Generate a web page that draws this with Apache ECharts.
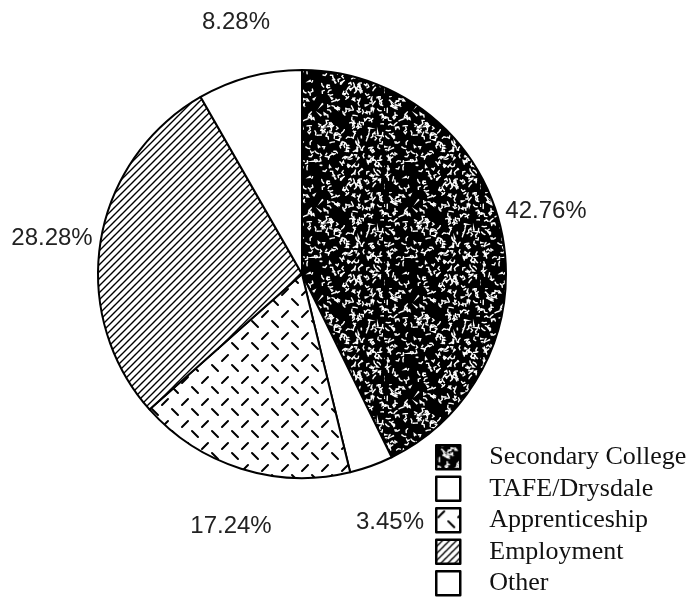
<!DOCTYPE html>
<html>
<head>
<meta charset="utf-8">
<script src="https://cdn.jsdelivr.net/npm/echarts@6/dist/echarts.min.js"></script>
<style>
  html, body { margin: 0; padding: 0; background: #fff; }
  #main { width: 690px; height: 603px; }
</style>
</head>
<body>
<div id="main"></div>
<script>
// destinations, clockwise from 12 o'clock
var categories = ['Secondary College', 'TAFE/Drysdale', 'Apprenticeship', 'Employment', 'Other'];
var percents = [42.76, 3.45, 17.24, 28.28, 8.28];

// where each percentage label sits (text centre, px)
var labelPos = [[546, 211], [390, 522], [231, 526], [52, 238], [236, 22]];

// small seeded generator, only for the speckle texture
var seed = 7;
function rnd() {
  seed = (seed * 16807) % 2147483647;
  return (seed - 1) / 2147483646;
}

// black with white worm-like speckles
function speckle() {
  var c = document.createElement('canvas');
  c.width = 96; c.height = 96;
  var g = c.getContext('2d');
  g.fillStyle = '#000';
  g.fillRect(0, 0, 96, 96);
  g.strokeStyle = '#fff';
  g.lineWidth = 1.4;
  g.lineCap = 'round';
  for (var i = 0; i < 300; i++) {
    var x = rnd() * 96, y = rnd() * 96;
    g.beginPath();
    g.moveTo(x, y);
    for (var k = 0; k < 2; k++) {
      var a = rnd() * Math.PI * 2;
      x += Math.cos(a) * 2.2; y += Math.sin(a) * 2.2;
      g.lineTo(x, y);
    }
    g.stroke();
  }
  return c;
}

// "/" hatching
function hatch() {
  var s = 7;
  var c = document.createElement('canvas');
  c.width = s; c.height = s;
  var g = c.getContext('2d');
  g.fillStyle = '#fff';
  g.fillRect(0, 0, s, s);
  g.strokeStyle = '#000';
  g.lineWidth = 1.4;
  g.beginPath();
  g.moveTo(-1, s + 1); g.lineTo(s + 1, -1);
  g.moveTo(-1, 1); g.lineTo(1, -1);
  g.moveTo(s - 1, s + 1); g.lineTo(s + 1, s - 1);
  g.stroke();
  return c;
}

// rows of short "/" and "\" dashes
function dashes() {
  var c = document.createElement('canvas');
  c.width = 20; c.height = 22;
  var g = c.getContext('2d');
  g.fillStyle = '#fff';
  g.fillRect(0, 0, 20, 22);
  g.strokeStyle = '#000';
  g.lineWidth = 2;
  g.lineCap = 'round';
  g.beginPath();
  g.moveTo(2, 9); g.lineTo(8, 3);
  g.moveTo(12, 13); g.lineTo(18, 19);
  g.stroke();
  return c;
}

var fills = [
  { image: speckle(), repeat: 'repeat' },
  '#ffffff',
  { image: dashes(), repeat: 'repeat' },
  { image: hatch(), repeat: 'repeat' },
  '#ffffff'
];

var chart = echarts.init(document.getElementById('main'));

var option = {
  backgroundColor: '#fff',
  animation: false,
  legend: {
    orient: 'vertical',
    left: 435,
    top: 444,
    padding: 0,
    icon: 'rect',
    itemWidth: 24,
    itemHeight: 24,
    itemGap: 5,
    itemStyle: { borderColor: '#000', borderWidth: 2.5 },
    textStyle: {
      fontFamily: 'Liberation Serif',
      fontSize: 26,
      lineHeight: 26,
      color: '#111',
      padding: [0, 0, 0, 24]
    },
    data: categories
  },
  series: [
    {
      type: 'pie',
      center: [302, 274],
      radius: 204,
      startAngle: 90,
      clockwise: true,
      itemStyle: { borderColor: '#000', borderWidth: 2 },
      label: {
        show: true,
        position: 'outside',
        overflow: 'none',
        fontFamily: 'Liberation Sans',
        fontSize: 24,
        color: '#222',
        formatter: function (p) { return p.value.toFixed(2) + '%'; }
      },
      labelLine: { show: false },
      labelLayout: function (p) {
        var pos = labelPos[p.dataIndex];
        return { x: pos[0], y: pos[1], align: 'center', verticalAlign: 'middle' };
      },
      emphasis: { disabled: true },
      data: categories.map(function (name, i) {
        return { name: name, value: percents[i], itemStyle: { color: fills[i] } };
      })
    }
  ]
};

chart.setOption(option);
</script>
</body>
</html>
